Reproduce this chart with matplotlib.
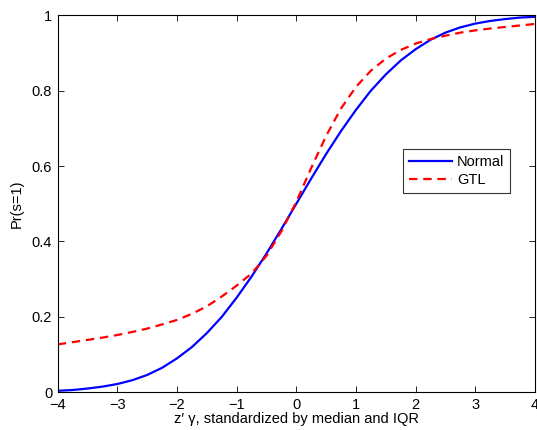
import matplotlib
matplotlib.use("Agg")
import matplotlib.pyplot as plt

plt.rcParams['font.family'] = ['Liberation Sans', 'DejaVu Sans']

z = [-4.0, -3.75, -3.5, -3.25, -3.0, -2.75, -2.5, -2.25, -2.0, -1.75, -1.5, -1.25,
     -1.0, -0.75, -0.5, -0.25, 0.0, 0.25, 0.5, 0.75, 1.0, 1.25, 1.5, 1.75,
     2.0, 2.25, 2.5, 2.75, 3.0, 3.25, 3.5, 3.75, 4.0]

normal = [0.004, 0.006, 0.010, 0.015, 0.022, 0.032, 0.046, 0.065, 0.090, 0.120, 0.157, 0.200,
          0.251, 0.307, 0.368, 0.433, 0.500, 0.567, 0.632, 0.693, 0.749, 0.800, 0.843, 0.880,
          0.910, 0.935, 0.954, 0.968, 0.978, 0.985, 0.990, 0.994, 0.996]

gtl = [0.127, 0.133, 0.139, 0.145, 0.152, 0.160, 0.169, 0.180, 0.192, 0.208, 0.228, 0.254,
       0.283, 0.315, 0.362, 0.427, 0.505, 0.595, 0.680, 0.753, 0.810, 0.853, 0.885, 0.908,
       0.925, 0.937, 0.946, 0.954, 0.960, 0.965, 0.969, 0.973, 0.977]

xticks = [-4, -3, -2, -1, 0, 1, 2, 3, 4]
yticks = [0, 0.2, 0.4, 0.6, 0.8, 1]
ytick_labels = ['0', '0.2', '0.4', '0.6', '0.8', '1']

fig = plt.figure(figsize=(5.37, 4.30), dpi=100)
ax = fig.add_axes([0.1075, 0.0877, 0.8885, 0.8767])

ax.plot(z, normal, color='#0000ff', lw=1.6, label='Normal')
ax.plot(z, gtl, color='#ff0000', lw=1.6, ls=(0, (3.8, 2.6)), label='GTL')

ax.set_xlim(-4, 4)
ax.set_ylim(0, 1)
ax.set_xticks(xticks)
ax.set_xticklabels(['\u2212%d' % -t if t < 0 else '%d' % t for t in xticks])
ax.set_yticks(yticks)
ax.set_yticklabels(ytick_labels)
ax.tick_params(direction='in', top=True, right=True, length=4, labelsize=10.5, width=0.6, pad=4)
for s in ax.spines.values():
    s.set_linewidth(0.8)

ax.set_xlabel('z\u2032 \u03b3, standardized by median and IQR', fontsize=10.5, labelpad=0)
ax.set_ylabel('Pr(s=1)', fontsize=10.5, labelpad=6)

leg = ax.legend(loc='upper right', bbox_to_anchor=(0.948, 0.645), fontsize=10.5,
                handlelength=3.0, frameon=True, fancybox=False, edgecolor='black',
                borderpad=0.4, labelspacing=0.3, handletextpad=0.3, borderaxespad=0)
leg.get_frame().set_linewidth(0.8)

fig.savefig('out.png', dpi=100)
